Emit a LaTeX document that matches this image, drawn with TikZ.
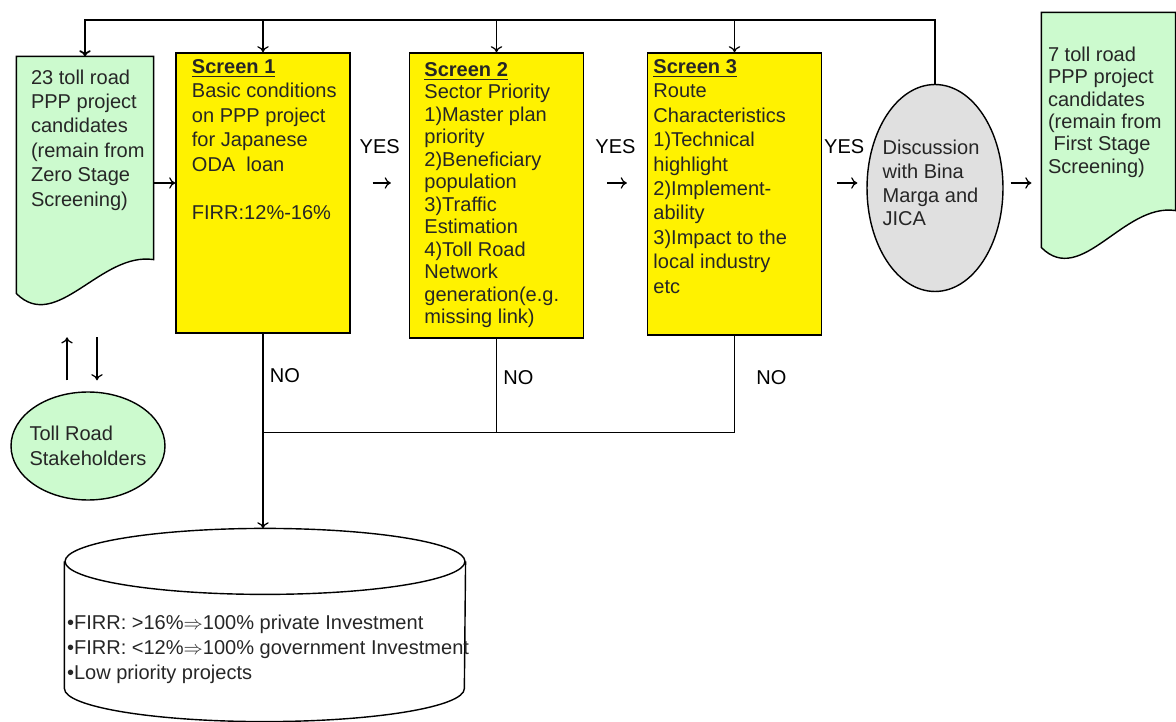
\documentclass[tikz,border=0pt]{standalone}
\usepackage{fontspec}
\setmainfont{Liberation Sans}
\usetikzlibrary{positioning,shapes.geometric,arrows.meta}

\definecolor{docgreen}{RGB}{204,250,206}
\definecolor{discgrey}{RGB}{224,224,224}

\begin{document}
\begin{tikzpicture}[x=0.02cm,y=-0.02cm,font=\fontsize{11.4}{13.9}\selectfont,line width=0.7pt,>={To[length=3.5pt,width=6.5pt]},
	screen/.style={draw,line width=0.8pt,fill=yellow,minimum width=3.48cm,inner sep=0pt},
	docbox/.style={inner sep=0pt},
	docline/.style={draw,line width=0.8pt,fill=docgreen},
	bubble/.style={ellipse,draw,line width=0.8pt,inner sep=0pt},
	txt/.style={anchor=north west,inner sep=0pt,align=left,text=black!85},
	tight/.style={font=\fontsize{11.4}{12.8}\selectfont}]
	\useasboundingbox (0,0) rectangle (1176,722);

	\node[docbox,minimum width=2.72cm,minimum height=4.04cm] (zero) at (85,158) {};
	\draw[docline] (zero.north west) -- (zero.north east) -- (zero.south east) .. controls ([shift={(-53,-8)}]zero.south east) and ([shift={(40,74)}]zero.south west) .. ([yshift=-0.68cm]zero.south west) -- cycle;
	\node[txt] (zerotxt) at ([shift={(14,12.5)}]zero.north west) {23 toll road\\PPP project\\candidates\\(remain from\\Zero Stage\\Screening)};

	\node[screen,minimum height=5.6cm] (s1) at (263,193) {};
	\node[screen,minimum height=5.7cm] (s2) at (496.5,195.5) {};
	\node[screen,minimum height=5.64cm] (s3) at (734.5,194) {};
	\node[txt] (s1txt) at ([shift={(16,6.5)}]s1.north west) {\textbf{\underline{Screen 1}}\\Basic conditions\\on PPP project\\for Japanese\\ODA\ \ loan\\[13.9pt]FIRR:12\%-16\%};
	\node[txt,tight] (s2txt) at ([shift={(15,9.5)}]s2.north west) {\textbf{\underline{Screen 2}}\\Sector Priority\\1)Master plan\\priority\\2)Beneficiary\\population\\3)Traffic\\Estimation\\4)Toll Road\\Network\\generation(e.g.\\missing link)};
	\node[txt] (s3txt) at ([shift={(6,6.5)}]s3.north west) {\textbf{\underline{Screen 3}}\\Route\\Characteristics\\1)Technical\\highlight\\2)Implement-\\ability\\3)Impact to the\\local industry\\etc};

	\node[bubble,fill=discgrey,minimum width=2.72cm,minimum height=4.14cm] (disc) at (935,188) {};
	\node[inner sep=0pt,align=left,text=black!85,font=\fontsize{11.4}{13.5}\selectfont] (disctxt) at ([shift={(-4,-5)}]disc) {Discussion\\with Bina\\Marga and\\JICA};

	\node[docbox,minimum width=2.66cm,minimum height=3.94cm] (first) at (1108.5,111.5) {};
	\draw[docline] (first.north west) -- (first.north east) -- (first.south east) .. controls ([shift={(-52,-8)}]first.south east) and ([shift={(40,77)}]first.south west) .. ([yshift=-0.74cm]first.south west) -- cycle;
	\node[txt,tight] (firsttxt) at ([shift={(6,33.5)}]first.north west) {7 toll road\\PPP project\\candidates\\(remain from\\\ First Stage\\Screening)};

	\node[bubble,fill=docgreen,minimum width=3.08cm,minimum height=2.16cm] (stake) at (88,446) {};
	\node[inner sep=0pt,align=left,text=black!85,font=\fontsize{11.4}{14}\selectfont] (staketxt) at (stake) {Toll Road\\Stakeholders};

	\node[docbox,minimum width=8cm,minimum height=2.52cm] (db) at (265,625) {};
	\coordinate (dbtop) at ([yshift=0.66cm]db.north);
	\draw[line width=0.8pt] (db.north west) -- (db.south west) arc[start angle=180,end angle=360,x radius=4cm,y radius=0.66cm] -- (db.north east);
	\draw[line width=0.8pt] (db.north) ellipse [x radius=4cm,y radius=0.66cm];
	\node[txt,font=\fontsize{11.4}{14.3}\selectfont] (dbtxt) at ([shift={(2,-10.5)}]db.west) {\textbullet FIRR: >16\%$\Rightarrow$100\% private Investment\\\textbullet FIRR: <12\%$\Rightarrow$100\% government Investment\\\textbullet Low priority projects};

	\coordinate (fb) at ([yshift=1.28cm]disc.north);
	\draw[->,line width=1pt] (disc.north) -- (fb) -| (zero.north);
	\foreach \scr in {s1,s2,s3}
		\draw[->] (\scr.north |- fb) -- (\scr.north);

	\coordinate (yes) at ([yshift=-0.5cm]zero.east);
	\draw[->] (zero.east |- yes) -- (s1.west |- yes);
	\draw[->,shorten <=0.44cm,shorten >=0.36cm] (s1.east |- yes) -- node[yshift=0.72cm] (yes1) {YES} (s2.west |- yes);
	\draw[->,shorten <=0.46cm,shorten >=0.4cm] (s2.east |- yes) -- node[yshift=0.72cm] (yes2) {YES} (s3.west |- yes);
	\draw[->,shorten <=0.3cm,shorten >=0.18cm] (s3.east |- yes) -- node[yshift=0.72cm] (yes3) {YES} (disc.west |- yes);
	\draw[->,shorten <=0.14cm,shorten >=0.2cm] (disc.east |- yes) -- (first.west |- yes);

	\coordinate (nj) at ([yshift=-1.98cm]s1.south);
	\draw (s3.south) |- (nj);
	\draw (s2.south) -- (s2.south |- nj);
	\draw[->] (s1.south) -- (s1.south |- dbtop);
	\node (no1) at ([shift={(22,42)}]s1.south) {NO};
	\node (no2) at ([shift={(22,39)}]s2.south) {NO};
	\node (no3) at ([shift={(37,42)}]s3.south) {NO};

	\draw[->] ([shift={(-21,-11)}]stake.north) -- ++(0,-43);
	\draw[<-] ([shift={(9,-11)}]stake.north) -- ++(0,-43);
\end{tikzpicture}
\end{document}
